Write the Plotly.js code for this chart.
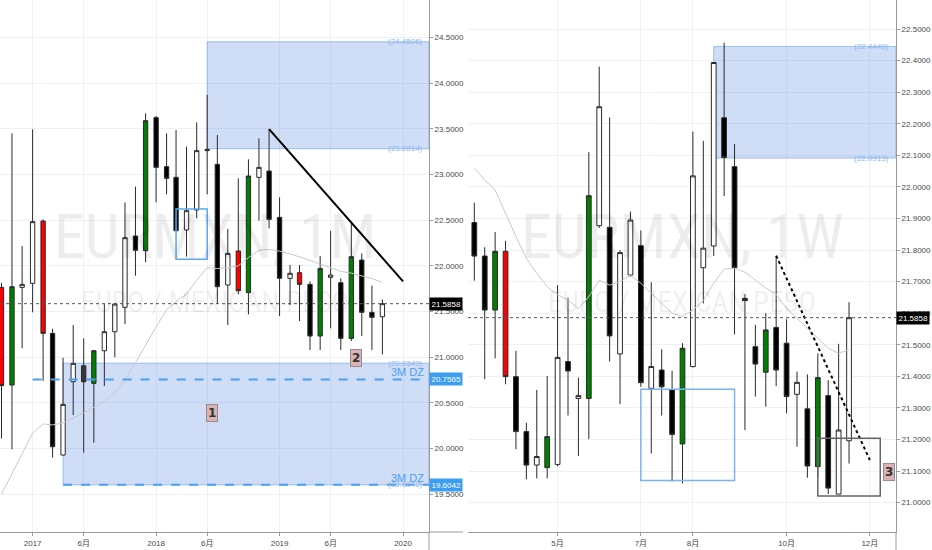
<!DOCTYPE html>
<html>
<head>
<meta charset="utf-8">
<script src="https://cdn.plot.ly/plotly-3.0.1.min.js"></script>
<style>
html,body{margin:0;padding:0;background:#fff;}
#chart{width:932px;height:550px;}
</style>
</head>
<body>
<div id="chart"></div>
<script>
// ---------- Left panel: EURMXN monthly ----------
const leftDates = ['2016-10-01','2016-11-01','2016-12-01','2017-01-01','2017-02-01','2017-03-01','2017-04-01','2017-05-01','2017-06-01','2017-07-01','2017-08-01','2017-09-01','2017-10-01','2017-11-01','2017-12-01','2018-01-01','2018-02-01','2018-03-01','2018-04-01','2018-05-01','2018-06-01','2018-07-01','2018-08-01','2018-09-01','2018-10-01','2018-11-01','2018-12-01','2019-01-01','2019-02-01','2019-03-01','2019-04-01','2019-05-01','2019-06-01','2019-07-01','2019-08-01','2019-09-01','2019-10-01','2019-11-01'];
const leftOpen  = [21.764,20.696,21.764,21.808,22.490,21.261,19.930,20.732,20.907,20.714,21.071,21.279,21.546,22.326,22.166,23.621,23.085,22.968,22.392,22.611,23.260,23.110,21.790,22.162,21.706,22.968,23.037,22.530,21.863,21.925,21.797,21.232,21.874,21.815,21.206,22.063,21.491,21.443];
const leftHigh  = [21.815,23.449,22.217,23.493,22.508,21.312,20.995,21.352,21.206,21.080,21.582,21.590,22.694,22.866,23.668,23.640,23.449,23.486,23.303,23.570,23.870,23.431,22.403,22.957,23.165,23.395,23.493,22.749,22.009,22.009,21.830,22.107,22.381,21.863,22.472,22.136,21.783,21.633];
const leftLow   = [20.112,19.992,21.097,21.491,20.740,19.901,19.925,20.368,19.956,20.065,20.685,20.999,21.363,21.892,22.038,22.694,22.782,22.380,22.100,22.519,22.782,21.589,21.352,21.688,21.469,22.494,22.410,21.451,21.571,21.396,21.079,21.079,21.316,21.079,21.177,21.232,21.079,21.031];
const leftClose = [20.689,21.772,21.797,22.483,21.261,20.021,20.484,20.933,20.732,21.071,21.279,21.582,22.308,22.169,23.588,23.077,22.957,22.384,22.603,23.260,23.274,21.772,22.136,21.728,22.982,23.077,22.508,21.863,21.918,21.797,21.232,21.972,21.899,21.206,22.100,21.491,21.436,21.5858];
const leftColor = ['r','g','w','w','r','b','w','w','d','g','w','w','w','b','g','b','b','b','w','w','w','b','w','r','g','w','b','b','w','r','b','g','w','b','g','b','b','w'];
const leftMA    = [19.50,19.72,19.95,20.17,20.27,20.26,20.28,20.33,20.39,20.45,20.52,20.61,20.75,20.94,21.14,21.33,21.52,21.61,21.69,21.84,21.98,21.97,21.98,22.00,22.09,22.17,22.18,22.16,22.13,22.10,22.06,22.02,21.98,21.94,21.92,21.89,21.86,21.82];
const leftXTickVals = ['2017-01-01','2017-06-01','2018-01-01','2018-06-01','2019-01-01','2019-06-01','2020-01-01'];
const leftXTickText = ['2017','6月','2018','6月','2019','6月','2020'];
const leftYTicks = [19.5,20.0,20.5,21.0,21.5,22.0,22.5,23.0,23.5,24.0,24.5];

// ---------- Right panel: EURMXN weekly ----------
const rightDates = ['2019-03-11','2019-03-18','2019-03-25','2019-04-01','2019-04-08','2019-04-15','2019-04-22','2019-04-29','2019-05-06','2019-05-13','2019-05-20','2019-05-27','2019-06-03','2019-06-10','2019-06-17','2019-06-24','2019-07-01','2019-07-08','2019-07-15','2019-07-22','2019-07-29','2019-08-05','2019-08-12','2019-08-19','2019-08-26','2019-09-02','2019-09-09','2019-09-16','2019-09-23','2019-09-30','2019-10-07','2019-10-14','2019-10-21','2019-10-28','2019-11-04','2019-11-11','2019-11-18'];
const rightOpen  = [21.887,21.781,21.610,21.796,21.399,21.225,21.119,21.111,21.121,21.447,21.330,21.330,21.877,21.872,21.471,21.721,21.814,21.362,21.420,21.357,21.186,21.431,21.744,21.813,22.219,22.064,21.647,21.494,21.413,21.555,21.505,21.343,21.297,21.114,21.339,21.027,21.196];
const rightHigh  = [21.950,21.809,21.857,21.829,21.481,21.253,21.357,21.401,21.689,21.649,21.396,22.110,22.381,22.220,21.800,21.922,21.862,21.698,21.486,21.418,21.505,22.175,22.146,22.394,22.457,22.136,21.661,21.563,21.600,21.782,21.581,21.415,21.406,21.473,21.388,21.503,21.635];
const rightLow   = [21.703,21.391,21.457,21.375,21.169,21.074,21.077,21.077,21.115,21.276,21.148,21.201,21.870,21.447,21.312,21.716,21.367,21.156,21.276,21.067,21.061,21.428,21.631,21.781,21.971,21.533,21.230,21.336,21.304,21.369,21.283,21.177,21.079,21.079,21.027,21.027,21.124];
const rightClose = [21.781,21.610,21.796,21.399,21.225,21.119,21.146,21.209,21.460,21.417,21.339,21.972,22.254,21.528,21.792,21.895,21.380,21.431,21.367,21.216,21.489,22.035,21.806,22.394,22.093,21.744,21.640,21.439,21.547,21.420,21.336,21.381,21.116,21.396,21.046,21.230,21.5858];
const rightColor = ['b','b','g','r','b','b','w','g','w','b','w','g','w','b','w','w','b','w','b','b','g','w','w','w','b','b','b','b','g','b','b','w','b','g','b','w','w'];
const rightMA    = [22.059,22.022,21.990,21.916,21.843,21.774,21.726,21.684,21.658,21.642,21.615,21.652,21.705,21.689,21.700,21.720,21.695,21.663,21.630,21.600,21.590,21.610,21.640,21.695,21.740,21.742,21.730,21.705,21.680,21.660,21.615,21.584,21.552,21.520,21.489,21.473,21.484];
const rightXTickVals = ['2019-05-06','2019-07-01','2019-08-05','2019-10-07','2019-12-02'];
const rightXTickText = ['5月','7月','8月','10月','12月'];
const rightYTicks = [21.0,21.1,21.2,21.3,21.4,21.5,21.6,21.7,21.8,21.9,22.0,22.1,22.2,22.3,22.4,22.5];

// zones / levels
const lastPrice = 21.5858;
const leftSupply = [23.2814, 24.4506];
const leftDemand = [19.6042, 20.9349];
const leftDZLevels = [20.7565, 19.6042];
const rightSupply = [22.0913, 22.4449];

// ---------- styling ----------
const W = 932, H = 550;
const xL0 = 0, xL1 = 429, xR0 = 468, xR1 = 896, yBottom = 532;
const bodyColors = {w:'#ffffff', b:'#000000', g:'#008000', r:'#ff0000', d:'#383838'};
const tickFont = {family:'"Liberation Sans Narrow", "Liberation Sans", Arial, "Noto Sans CJK SC", sans-serif', size:8, color:'#4a4a4a'};
const gridColor = '#edf1f7';
const zoneFill = 'rgba(50,110,220,0.23)';
const zoneLine = 'rgba(90,150,235,0.55)';

function candleTraces(dates, o, h, l, c, col, xa, ya) {
  const out = [];
  Object.keys(bodyColors).forEach(k => {
    const idx = col.map((v, i) => v === k ? i : -1).filter(i => i >= 0);
    if (!idx.length) return;
    const st = {fillcolor: bodyColors[k], line:{color:'#2a2a2a', width:1}};
    out.push({
      type:'candlestick', xaxis:xa, yaxis:ya,
      x: idx.map(i => dates[i]), open: idx.map(i => o[i]), high: idx.map(i => h[i]),
      low: idx.map(i => l[i]), close: idx.map(i => c[i]),
      increasing: st, decreasing: st, whiskerwidth: 0, showlegend:false, hoverinfo:'x+y'
    });
  });
  return out;
}

const traces = [
  {type:'scatter', mode:'lines', x:leftDates, y:leftMA, xaxis:'x', yaxis:'y', line:{color:'#c9c9c9', width:1}, hoverinfo:'skip', showlegend:false},
  {type:'scatter', mode:'lines', x:rightDates, y:rightMA, xaxis:'x2', yaxis:'y2', line:{color:'#c9c9c9', width:1}, hoverinfo:'skip', showlegend:false},
  ...candleTraces(leftDates, leftOpen, leftHigh, leftLow, leftClose, leftColor, 'x', 'y'),
  ...candleTraces(rightDates, rightOpen, rightHigh, rightLow, rightClose, rightColor, 'x2', 'y2')
];

const leftRange = ['2016-09-26 14:00', '2020-03-17 17:00'];
const rightRange = ['2019-03-06 18:00', '2019-12-19 14:00'];

const shapes = [
  // left zones
  {type:'rect', xref:'x', yref:'y', x0:'2018-06-01', x1:leftRange[1], y0:leftSupply[0], y1:leftSupply[1], fillcolor:zoneFill, line:{color:zoneLine, width:1}, layer:'between'},
  {type:'rect', xref:'x', yref:'y', x0:'2017-04-01', x1:leftRange[1], y0:leftDemand[0], y1:leftDemand[1], fillcolor:zoneFill, line:{color:zoneLine, width:1}, layer:'between'},
  {type:'rect', xref:'x', yref:'y', x0:'2018-03-01', x1:'2018-06-01', y0:22.071, y1:22.621, line:{color:'#5aa6f2', width:1.5}, layer:'above'},
  {type:'line', xref:'x', yref:'y', x0:'2017-01-01', x1:leftRange[1], y0:leftDZLevels[0], y1:leftDZLevels[0], line:{color:'#4a9ff2', width:2, dash:'dash'}},
  {type:'line', xref:'x', yref:'y', x0:'2017-04-01', x1:leftRange[1], y0:leftDZLevels[1], y1:leftDZLevels[1], line:{color:'#4a9ff2', width:2, dash:'dash'}},
  {type:'line', xref:'x', yref:'y', x0:'2018-12-01', x1:'2020-01-01', y0:23.495, y1:21.83, line:{color:'#000', width:2}},
  {type:'line', xref:'x domain', yref:'y', x0:0, x1:1, y0:lastPrice, y1:lastPrice, line:{color:'#555', width:1, dash:'dot'}},
  // right
  {type:'rect', xref:'x2', yref:'y2', x0:'2019-08-19', x1:rightRange[1], y0:rightSupply[0], y1:rightSupply[1], fillcolor:zoneFill, line:{color:zoneLine, width:1}, layer:'between'},
  {type:'rect', xref:'x2', yref:'y2', x0:'2019-07-01', x1:'2019-09-02', y0:21.070, y1:21.359, line:{color:'#7ab2f2', width:1.5}, layer:'above'},
  {type:'line', xref:'x2', yref:'y2', x0:'2019-09-30', x1:'2019-12-02', y0:21.782, y1:21.135, line:{color:'#000', width:2, dash:'dot'}},
  {type:'rect', xref:'x2', yref:'y2', x0:'2019-10-28', x1:'2019-12-09', y0:21.021, y1:21.204, line:{color:'#666', width:1.5}, layer:'above'},
  {type:'line', xref:'x2 domain', yref:'y2', x0:0, x1:1, y0:lastPrice, y1:lastPrice, line:{color:'#555', width:1, dash:'dot'}},
  // axis frame extensions
  {type:'line', xref:'paper', yref:'paper', x0:xL1/W, x1:xL1/W, y0:0, y1:1-yBottom/H, line:{color:'#9a9a9a', width:1}},
  {type:'line', xref:'paper', yref:'paper', x0:xR1/W, x1:xR1/W, y0:0, y1:1-yBottom/H, line:{color:'#9a9a9a', width:1}},
  {type:'line', xref:'paper', yref:'paper', x0:xL1/W, x1:463/W, y0:1-yBottom/H, y1:1-yBottom/H, line:{color:'#9a9a9a', width:1}}
];

const wmFont = '"Liberation Sans Narrow", "Roboto Condensed", "Liberation Sans", Arial, sans-serif';
const wmColor = 'rgba(0,0,0,0.07)';
const smallBlue = {family:'"Liberation Sans", Arial, sans-serif', size:8, color:'#8db8f0'};
function axisTag(xref, yref, y, text, bg) {
  return {xref:'paper', x:xref, xanchor:'left', yref:yref, y:y, yanchor:'middle', text:text, showarrow:false,
          bgcolor:bg, borderpad:1.5, font:{family:tickFont.family, size:8, color:'#ffffff'}};
}
function numTag(xref, yref, x, y, text) {
  return {xref:xref, yref:yref, x:x, y:y, text:text, showarrow:false, bgcolor:'#d9b3b6', bordercolor:'#9c8a8b', borderwidth:1, borderpad:1,
          font:{family:'"DejaVu Sans", sans-serif', size:12, color:'#333'}};
}
const annotations = [
  // watermarks
  {xref:'x domain', yref:'paper', x:0.5, y:1-236/H, text:'EURMXN, 1M', showarrow:false, font:{family:wmFont, size:62, color:wmColor}},
  {xref:'x domain', yref:'paper', x:0.5, y:1-302/H, text:'EURO / MEXICAN PESO', showarrow:false, font:{family:wmFont, size:29, color:wmColor}},
  {xref:'x2 domain', yref:'paper', x:0.5, y:1-236/H, text:'EURMXN, 1W', showarrow:false, font:{family:wmFont, size:62, color:wmColor}},
  {xref:'x2 domain', yref:'paper', x:0.5, y:1-302/H, text:'EURO / MEXICAN PESO', showarrow:false, font:{family:wmFont, size:29, color:wmColor}},
  // zone price labels
  {xref:'paper', x:425/W, xanchor:'right', yref:'y', y:leftSupply[1], text:'(24.4506)', showarrow:false, font:smallBlue},
  {xref:'paper', x:425/W, xanchor:'right', yref:'y', y:leftSupply[0], text:'(23.2814)', showarrow:false, font:smallBlue},
  {xref:'paper', x:425/W, xanchor:'right', yref:'y', y:leftDemand[1], text:'(20.9349)', showarrow:false, font:smallBlue},
  {xref:'paper', x:425/W, xanchor:'right', yref:'y', y:leftDemand[0], text:'(19.6042)', showarrow:false, font:smallBlue},
  {xref:'paper', x:891/W, xanchor:'right', yref:'y2', y:rightSupply[1], text:'(22.4449)', showarrow:false, font:smallBlue},
  {xref:'paper', x:891/W, xanchor:'right', yref:'y2', y:rightSupply[0], text:'(22.0913)', showarrow:false, font:smallBlue},
  {xref:'paper', x:426/W, xanchor:'right', yref:'y', y:leftDZLevels[0], yanchor:'bottom', yshift:-1, text:'3M DZ', showarrow:false, font:{family:'"Liberation Sans", Arial, sans-serif', size:11, color:'#4a9ff2'}},
  {xref:'paper', x:426/W, xanchor:'right', yref:'y', y:leftDZLevels[1], yanchor:'bottom', yshift:-1, text:'3M DZ', showarrow:false, font:{family:'"Liberation Sans", Arial, sans-serif', size:11, color:'#4a9ff2'}},
  // axis tags
  axisTag(xL1/W, 'y', lastPrice, '21.5858', '#000000'),
  axisTag(xL1/W, 'y', leftDZLevels[0], '20.7565', '#3d9df2'),
  axisTag(xL1/W, 'y', leftDZLevels[1], '19.6042', '#3d9df2'),
  axisTag(xR1/W, 'y2', lastPrice, '21.5858', '#000000'),
  // numbered tags
  numTag('x', 'y', '2018-06-16', 20.39, '<b>1</b>'),
  numTag('x', 'y', '2019-08-16', 20.99, '<b>2</b>'),
  numTag('x2', 'y2', '2019-12-14 20:00', 21.096, '<b>3</b>')
];

const xCommon = {type:'date', ticks:'outside', ticklen:3, tickcolor:'#9a9a9a', showgrid:true, gridcolor:gridColor, gridwidth:1,
  showline:true, linecolor:'#9a9a9a', linewidth:1, zeroline:false, tickfont:tickFont, rangeslider:{visible:false}, fixedrange:true};
const yCommon = {side:'right', ticks:'outside', ticklen:3, tickcolor:'#9a9a9a', showgrid:true, gridcolor:gridColor, gridwidth:1,
  showline:true, linecolor:'#9a9a9a', linewidth:1, zeroline:false, tickfont:tickFont, tickformat:'.4f', fixedrange:true};

const layout = {
  width:W, height:H, margin:{l:0, r:0, t:0, b:0}, paper_bgcolor:'#ffffff', plot_bgcolor:'#ffffff', showlegend:false,
  boxgap:0.35, dragmode:false, hovermode:false,
  xaxis: Object.assign({}, xCommon, {domain:[xL0/W, xL1/W], anchor:'y', range:leftRange, tickmode:'array', tickvals:leftXTickVals, ticktext:leftXTickText}),
  yaxis: Object.assign({}, yCommon, {domain:[1-yBottom/H, 1], anchor:'x', range:[19.088, 24.908], tickmode:'array', tickvals:leftYTicks}),
  xaxis2: Object.assign({}, xCommon, {domain:[xR0/W, xR1/W], anchor:'y2', range:rightRange, tickmode:'array', tickvals:rightXTickVals, ticktext:rightXTickText}),
  yaxis2: Object.assign({}, yCommon, {domain:[1-yBottom/H, 1], anchor:'x2', range:[20.907, 22.592], tickmode:'array', tickvals:rightYTicks}),
  shapes: shapes,
  annotations: annotations
};

Plotly.newPlot('chart', traces, layout, {displayModeBar:false, staticPlot:true});
</script>
</body>
</html>
